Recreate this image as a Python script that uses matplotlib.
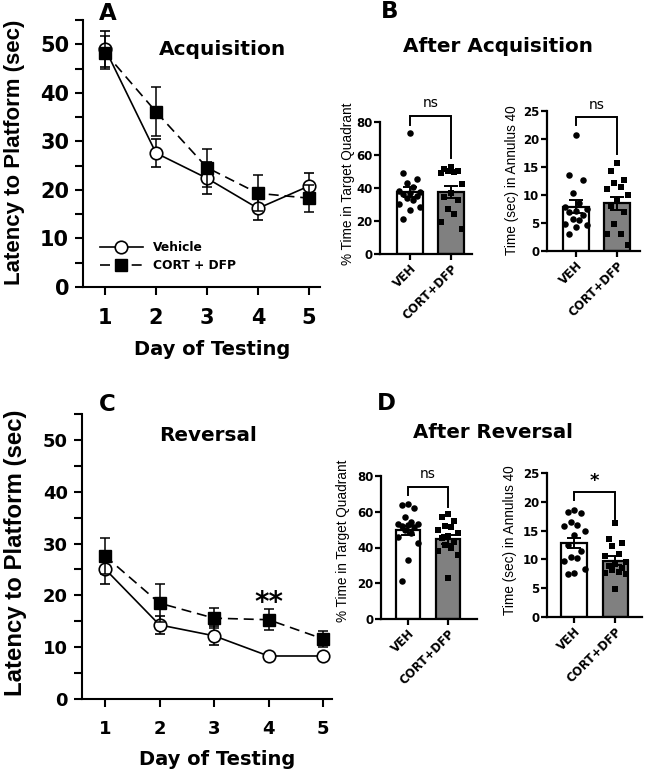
import matplotlib
matplotlib.use("Agg")
import matplotlib.pyplot as plt
import numpy as np
from matplotlib.ticker import MultipleLocator
from matplotlib.lines import Line2D

plt.rcParams['font.family'] = ['DejaVu Sans']
LAB = ['Liberation Sans', 'DejaVu Sans']

# ---------------- data ----------------
days = [1, 2, 3, 4, 5]
acq_veh = [49.1, 27.6, 22.4, 16.2, 20.8]
acq_veh_err = [3.7, 2.9, 3.3, 2.5, 2.6]
acq_cort = [48.3, 36.1, 24.6, 19.3, 18.3]
acq_cort_err = [3.4, 5.0, 3.9, 3.7, 2.8]

rev_veh = [25.1, 14.3, 12.2, 8.3, 8.3]
rev_veh_err = [2.9, 1.8, 1.8, 0.0, 0.0]
rev_cort = [27.6, 18.5, 15.6, 15.3, 11.6]
rev_cort_err = [3.4, 3.6, 1.9, 2.0, 1.6]

groups = ["VEH", "CORT+DFP"]

# After acquisition: % time in target quadrant
aq_tq_veh = [73.4, 49, 45.5, 43, 40.5, 38, 37.5, 37, 36.5, 35, 34, 32.5, 30.5, 28.5, 26.5, 21.5]
aq_tq_cort = [52.5, 51.5, 50.5, 50, 49.5, 49, 42.5, 37, 34.5, 32.5, 27.5, 24.5, 19.5, 15]
aq_tq_mean = [37.5, 37.7]
aq_tq_sem = [3.2, 3.8]
# After acquisition: time in annulus 40
aq_an_veh = [20.7, 13.5, 12.6, 10.4, 8.5, 7.9, 7.5, 7.2, 6.9, 6.4, 5.8, 5.5, 4.9, 4.6, 4.2, 3.1]
aq_an_cort = [15.7, 14.3, 12.6, 12.2, 11.5, 11.0, 10.0, 9.0, 8.0, 7.0, 4.8, 3.0, 3.0, 1.0]
aq_an_mean = [7.9, 8.5]
aq_an_sem = [1.2, 1.2]

# After reversal: % time in target quadrant
rv_tq_veh = [64.5, 64, 62, 57, 54, 53, 53, 52.5, 52, 51.5, 50, 48, 46, 42.5, 33, 21.5]
rv_tq_cort = [58.5, 57, 55, 52, 51.5, 50, 48, 46.5, 45.5, 43, 41.5, 40, 38, 36, 23]
rv_tq_mean = [49.6, 44.5]
rv_tq_sem = [2.7, 2.6]
# After reversal: time in annulus 40
rv_an_veh = [18.5, 18.3, 18.0, 16.5, 16.0, 15.8, 15.0, 14.2, 12.5, 11.5, 10.5, 10.2, 9.8, 8.3, 7.6, 7.4]
rv_an_cort = [16.4, 13.5, 12.8, 12.4, 11.0, 10.6, 9.6, 9.2, 8.8, 8.5, 8.2, 7.8, 7.6, 7.4, 4.8]
rv_an_mean = [12.8, 9.8]
rv_an_sem = [0.9, 0.8]

W, H = 645, 776
fig = plt.figure(figsize=(W / 100, H / 100), dpi=100)


def px_axes(l, r, t, b):
    return fig.add_axes([l / W, 1 - b / H, (r - l) / W, (b - t) / H])


DASH = (0, (6, 3.5))


def line_panel(ax, veh, veh_err, cort, cort_err, xlim, ticksize, ylab_size):
    ax.errorbar(days, veh, yerr=veh_err, color='black', lw=1.2, ls='-',
                marker='o', ms=9, mfc='white', mec='black', mew=1.2,
                capsize=3.5, elinewidth=1.1, capthick=1.1, zorder=3)
    ax.errorbar(days, cort, yerr=cort_err, color='black', lw=1.2, ls=DASH,
                marker='s', ms=8.5, mfc='black', mec='black',
                capsize=3.5, elinewidth=1.1, capthick=1.1, zorder=4)
    ax.set_xlim(*xlim)
    ax.set_ylim(0, 55)
    ax.set_xticks(days)
    ax.set_yticks([0, 10, 20, 30, 40, 50])
    ax.yaxis.set_minor_locator(MultipleLocator(5))
    for s in ['top', 'right']:
        ax.spines[s].set_visible(False)
    for s in ['left', 'bottom']:
        ax.spines[s].set_linewidth(1.5)
    ax.tick_params(axis='both', which='major', direction='out', length=6, width=1.5,
                   labelsize=ticksize)
    ax.tick_params(axis='y', which='minor', direction='out', length=6, width=1.5)
    for lab in ax.get_xticklabels() + ax.get_yticklabels():
        lab.set_fontweight('bold')
    ax.tick_params(axis='x', pad=9)
    ax.tick_params(axis='y', pad=4)
    ax.set_ylabel('Latency to Platform (sec)', fontsize=ylab_size, fontweight='bold',
                  family=LAB)
    ax.set_xlabel('Day of Testing', fontsize=14, fontweight='bold')


# Panel A
axA = px_axes(83, 320, 20, 287)
line_panel(axA, acq_veh, acq_veh_err, acq_cort, acq_cort_err, (0.569, 5.216), 15, 16)
axA.yaxis.set_label_coords(-0.245, 0.506)
axA.xaxis.set_label_coords(0.544, -0.20)
axA.text(0.59, 0.888, 'Acquisition', transform=axA.transAxes, ha='center', va='center',
         fontsize=14.5, fontweight='bold')
handles = [Line2D([], [], color='black', lw=1.2, ls='-', marker='o', ms=9, mfc='white',
                  mec='black', mew=1.2),
           Line2D([], [], color='black', lw=1.2, ls=DASH, marker='s', ms=8.5,
                  mfc='black', mec='black')]
axA.legend(handles, ['Vehicle', 'CORT + DFP'], loc='lower left',
           bbox_to_anchor=(0.072, 0.055), frameon=False, handlelength=3.5,
           prop={'weight': 'bold', 'size': 8.8}, labelspacing=0.45, handletextpad=0.8,
           borderaxespad=0, borderpad=0)

# Panel C
axC = px_axes(82, 332, 414, 699)
line_panel(axC, rev_veh, rev_veh_err, rev_cort, rev_cort_err, (0.578, 5.165), 13, 17.3)
axC.yaxis.set_label_coords(-0.22, 0.512)
axC.xaxis.set_label_coords(0.54, -0.179)
axC.text(0.504, 0.926, 'Reversal', transform=axC.transAxes, ha='center', va='center',
         fontsize=14.4, fontweight='bold')
axC.text(4, 18.5, '**', ha='center', va='center', fontsize=20, fontweight='bold')


def swarm_offsets(vals, step=0.16):
    order = np.argsort(vals)[::-1]
    pattern = [0.0, -1.0, 1.0, -0.5, 0.5, -1.6, 1.6]
    offs = np.zeros(len(vals))
    for k, i in enumerate(order):
        offs[i] = pattern[k % len(pattern)] * step
    return offs


def bar_panel(ax, veh, cort, means, sems, ymax, ystep, ylabel, bracket, sig, xlim):
    colors = ['white', '#808080']
    ax.bar([0, 1], means, width=0.62, color=colors, edgecolor='black', linewidth=1.6,
           zorder=1)
    ax.errorbar([0, 1], means, yerr=sems, fmt='none', ecolor='black', elinewidth=1.4,
                capsize=5, capthick=1.4, zorder=4)
    ax.scatter(np.zeros(len(veh)) + swarm_offsets(veh), veh, s=22, marker='o',
               color='black', zorder=3, linewidths=0)
    ax.scatter(np.ones(len(cort)) + swarm_offsets(cort), cort, s=22, marker='s',
               color='black', zorder=3, linewidths=0)
    ax.set_xlim(*xlim)
    ax.set_ylim(0, ymax)
    ax.set_yticks(np.arange(0, ymax + 0.1, ystep))
    ax.set_xticks([0, 1])
    ax.set_xticklabels(groups, rotation=45, ha='right', rotation_mode='anchor',
                       fontsize=8, fontweight='bold')
    for s in ['top', 'right']:
        ax.spines[s].set_visible(False)
    for s in ['left', 'bottom']:
        ax.spines[s].set_linewidth(1.6)
    ax.tick_params(axis='both', direction='out', length=4, width=1.6, labelsize=8.5)
    for lab in ax.get_yticklabels():
        lab.set_fontweight('bold')
    ax.tick_params(axis='y', pad=1.5)
    ax.tick_params(axis='x', pad=2)
    ax.set_ylabel(ylabel, fontsize=9.8, family=LAB)
    ytop, yl, yr, ytext = bracket
    ax.plot([0, 0, 1, 1], [yl, ytop, ytop, yr], color='black', lw=1.4, clip_on=False,
            solid_joinstyle='miter')
    if sig == '*':
        ax.text(0.5, ytext, sig, ha='center', va='center', fontsize=13,
                fontweight='bold', clip_on=False)
    else:
        ax.text(0.5, ytext, sig, ha='center', va='center', fontsize=10, clip_on=False)


axB1 = px_axes(380, 472, 122, 254)
bar_panel(axB1, aq_tq_veh, aq_tq_cort, aq_tq_mean, aq_tq_sem, 80, 20,
          '% Time in Target Quadrant', (83.5, 78, 58, 91.5), 'ns', (-0.73, 1.51))
axB1.yaxis.set_label_coords(-0.27, 0.53)

axB2 = px_axes(547, 640, 111, 251)
bar_panel(axB2, aq_an_veh, aq_an_cort, aq_an_mean, aq_an_sem, 25, 5,
          'Time (sec) in Annulus 40', (23.9, 22.5, 17.4, 26.0), 'ns', (-0.7, 1.55))
axB2.yaxis.set_label_coords(-0.30, 0.507)

axD1 = px_axes(381, 477, 476, 619)
bar_panel(axD1, rv_tq_veh, rv_tq_cort, rv_tq_mean, rv_tq_sem, 80, 20,
          '% Time in Target Quadrant', (74, 69.4, 62.9, 81), 'ns', (-0.675, 1.725))
axD1.yaxis.set_label_coords(-0.32, 0.55)

axD2 = px_axes(547, 642, 473, 617)
bar_panel(axD2, rv_an_veh, rv_an_cort, rv_an_mean, rv_an_sem, 25, 5,
          'Time (sec) in Annulus 40', (21.7, 20.3, 17.1, 23.6), '*', (-0.66, 1.65))
axD2.yaxis.set_label_coords(-0.316, 0.535)

# Titles and panel letters
fig.text(498 / W, 1 - 47 / H, 'After Acquisition', ha='center', va='center',
         fontsize=14.4, fontweight='bold')
fig.text(493 / W, 1 - 432 / H, 'After Reversal', ha='center', va='center',
         fontsize=14.2, fontweight='bold')
fig.text(99 / W, 1 - 14 / H, 'A', ha='left', va='center', fontsize=16.5, fontweight='bold')
fig.text(381 / W, 1 - 12 / H, 'B', ha='left', va='center', fontsize=16.5, fontweight='bold')
fig.text(99 / W, 1 - 404 / H, 'C', ha='left', va='center', fontsize=16.5, fontweight='bold')
fig.text(377 / W, 1 - 403 / H, 'D', ha='left', va='center', fontsize=16.5, fontweight='bold')

fig.savefig('out.png', dpi=100)
